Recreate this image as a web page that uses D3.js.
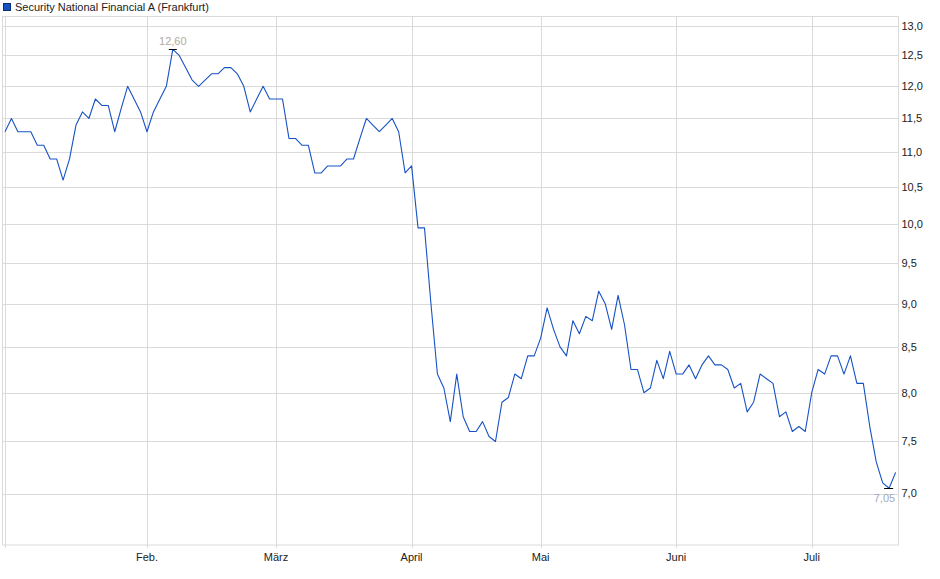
<!DOCTYPE html>
<html>
<head>
<meta charset="utf-8">
<script src="https://cdn.jsdelivr.net/npm/d3@7"></script>
<style>
body { margin: 0; background: #fff; }
svg text { font-family: "Liberation Sans", Arial, sans-serif; }
</style>
</head>
<body>
<script>
/* global d3 */

// Data
const seriesName = 'Security National Financial A (Frankfurt)';

const prices = [
    11.3, 11.5, 11.3, 11.3, 11.3, 11.1, 11.1, 10.9, 10.9, 10.6,
    10.9, 11.4, 11.6, 11.5, 11.8, 11.7, 11.7, 11.3, 11.65, 12.0,
    11.8, 11.6, 11.3, 11.6, 11.8, 12.0, 12.6, 12.5, 12.3, 12.1,
    12.0, 12.1, 12.2, 12.2, 12.3, 12.3, 12.2, 12.0, 11.6, 11.8,
    12.0, 11.8, 11.8, 11.8, 11.2, 11.2, 11.1, 11.1, 10.7, 10.7,
    10.8, 10.8, 10.8, 10.9, 10.9, 11.2, 11.5, 11.4, 11.3, 11.4,
    11.5, 11.3, 10.7, 10.8, 9.95, 9.95, 9.0, 8.2, 8.05, 7.7,
    8.2, 7.75, 7.6, 7.6, 7.7, 7.55, 7.5, 7.9, 7.95, 8.2,
    8.15, 8.4, 8.4, 8.6, 8.95, 8.7, 8.5, 8.4, 8.8, 8.65,
    8.85, 8.8, 9.15, 9.0, 8.7, 9.1, 8.75, 8.25, 8.25, 8.0,
    8.05, 8.35, 8.15, 8.45, 8.2, 8.2, 8.3, 8.15, 8.3, 8.4,
    8.3, 8.3, 8.25, 8.05, 8.1, 7.8, 7.9, 8.2, 8.15, 8.1,
    7.75, 7.8, 7.6, 7.65, 7.6, 8.0, 8.25, 8.2, 8.4, 8.4,
    8.2, 8.4, 8.1, 8.1, 7.65, 7.3, 7.1, 7.05, 7.2
];

// index of the first trading day in each month
const monthStarts = [0, 22, 42, 63, 83, 104, 125];
const monthLabels = ['', 'Feb.', 'März', 'April', 'Mai', 'Juni', 'Juli'];

const yTicks = [7.0, 7.5, 8.0, 8.5, 9.0, 9.5, 10.0, 10.5, 11.0, 11.5, 12.0, 12.5, 13.0];
const yDomain = [6.54, 13.17];

// SVG setup
const width = 940;
const height = 579;
const plot = { left: 2.5, right: 898.5, top: 16.5, bottom: 545 };

const lineColor = '#1752c4';
const gridColor = '#dadada';

const de = d3.formatLocale({ decimal: ',', thousands: '.', grouping: [3], currency: ['', ' €'] });
const fmt1 = de.format('.1f');
const fmt2 = de.format('.2f');

const svg = d3.select('body')
.append('svg')
.attr('width', width)
.attr('height', height);

// Scales
const xScale = d3.scaleLinear()
.domain([0, prices.length - 1])
.range([5, 895.6]);

const yScale = d3.scaleLog()
.domain(yDomain)
.range([plot.bottom, plot.top - 0.5]);

// Horizontal grid
svg.append('g')
.selectAll('line')
.data(yTicks)
.enter()
.append('line')
.attr('x1', plot.left)
.attr('x2', plot.right)
.attr('y1', d => Math.round(yScale(d)) + 0.5)
.attr('y2', d => Math.round(yScale(d)) + 0.5)
.attr('stroke', gridColor);

// Vertical grid
svg.append('g')
.selectAll('line')
.data(monthStarts)
.enter()
.append('line')
.attr('x1', d => Math.round(xScale(d)) + 0.5)
.attr('x2', d => Math.round(xScale(d)) + 0.5)
.attr('y1', plot.top)
.attr('y2', plot.bottom + 3)
.attr('stroke', gridColor);

// Frame
svg.append('rect')
.attr('x', plot.left)
.attr('y', plot.top)
.attr('width', plot.right - plot.left)
.attr('height', plot.bottom - plot.top)
.attr('fill', 'none')
.attr('stroke', gridColor);

// Right axis labels
svg.append('g')
.selectAll('text')
.data(yTicks)
.enter()
.append('text')
.attr('x', plot.right + 3)
.attr('y', d => yScale(d))
.attr('dy', '0.35em')
.attr('font-size', '11px')
.attr('fill', '#222')
.text(d => fmt1(d));

// Bottom axis labels
svg.append('g')
.selectAll('text')
.data(monthStarts)
.enter()
.append('text')
.attr('x', d => xScale(d))
.attr('y', plot.bottom + 8)
.attr('dy', '0.71em')
.attr('text-anchor', 'middle')
.attr('font-size', '11px')
.attr('fill', '#222')
.text((d, i) => monthLabels[i]);

// Price line
const line = d3.line()
.x((d, i) => xScale(i))
.y(d => yScale(d));

svg.append('path')
.datum(prices)
.attr('d', line)
.attr('fill', 'none')
.attr('stroke', lineColor)
.attr('stroke-width', 1.1)
.attr('stroke-linejoin', 'round');

// High / low markers
const hi = d3.maxIndex(prices);
const lo = d3.minIndex(prices);

svg.append('line')
.attr('x1', xScale(hi) - 4)
.attr('x2', xScale(hi) + 4)
.attr('y1', Math.round(yScale(prices[hi])) + 0.5)
.attr('y2', Math.round(yScale(prices[hi])) + 0.5)
.attr('stroke', '#000');

svg.append('text')
.attr('x', xScale(hi))
.attr('y', yScale(prices[hi]) - 4)
.attr('text-anchor', 'middle')
.attr('font-size', '11px')
.attr('fill', '#b3aa9c')
.text(fmt2(prices[hi]));

svg.append('line')
.attr('x1', xScale(lo) - 5)
.attr('x2', xScale(lo) + 4)
.attr('y1', Math.round(yScale(prices[lo])) + 0.5)
.attr('y2', Math.round(yScale(prices[lo])) + 0.5)
.attr('stroke', '#000');

svg.append('text')
.attr('x', xScale(lo) + 6)
.attr('y', yScale(prices[lo]) + 14)
.attr('text-anchor', 'end')
.attr('font-size', '11px')
.attr('fill', '#a2aab8')
.text(fmt2(prices[lo]));

// Legend
svg.append('rect')
.attr('x', 3.5)
.attr('y', 3.5)
.attr('width', 7)
.attr('height', 7)
.attr('fill', lineColor)
.attr('stroke', '#0c2f73');

svg.append('text')
.attr('x', 15)
.attr('y', 10.5)
.attr('font-size', '11px')
.attr('fill', '#222')
.text(seriesName);
</script>
</body>
</html>
